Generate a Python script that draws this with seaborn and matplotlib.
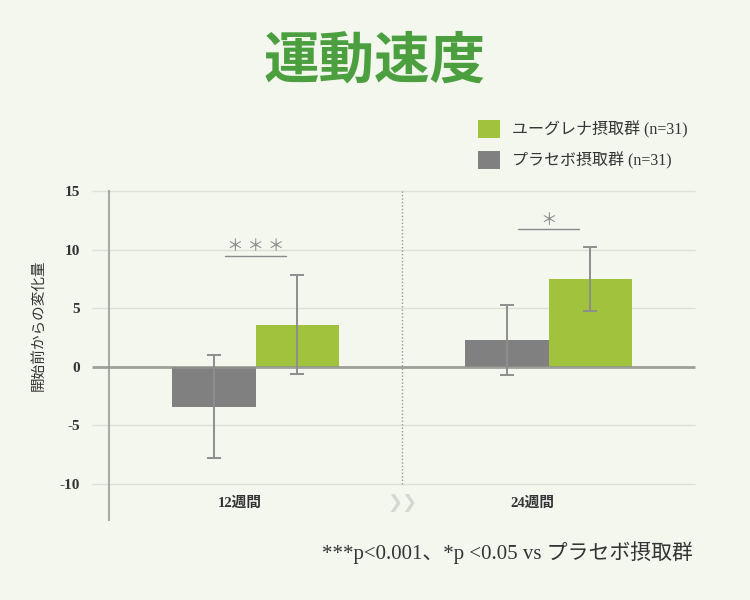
import matplotlib
matplotlib.use('Agg')
import matplotlib.pyplot as plt
import matplotlib.transforms as mtransforms
import seaborn as sns
import pandas as pd
from matplotlib.patches import Patch

# ---------------- data ----------------
title = "運動速度"
periods = ["12週間", "24週間"]
groups = ["プラセボ摂取群 (n=31)", "ユーグレナ摂取群 (n=31)"]
placebo_mean = [-3.4, 2.3]
placebo_err = [4.4, 3.0]
euglena_mean = [3.6, 7.5]
euglena_err = [4.25, 2.7]
sig_marks = ["＊ ＊ ＊", "＊"]
sig_y = [9.45, 11.75]
y_ticks = [-10, -5, 0, 5, 10, 15]
y_label = "開始前からの変化量"
footnote = "***p<0.001、*p <0.05 vs プラセボ摂取群"

BG = '#f3f7ee'
GREEN = '#a0c23c'
GRAY = '#808080'
TITLE_GREEN = '#4c9f3f'
TEXT = '#333333'

sns.set_theme(style='white', rc={'figure.facecolor': BG, 'axes.facecolor': BG,
                                 'savefig.facecolor': BG})
plt.rcParams['font.family'] = ['Liberation Serif', 'Noto Sans CJK JP', 'DejaVu Sans']

df = pd.DataFrame({
    'period': periods * 2,
    'group': [groups[0]] * len(periods) + [groups[1]] * len(periods),
    'value': placebo_mean + euglena_mean,
})

fig = plt.figure(figsize=(7.5, 6), dpi=100)
ax = fig.add_axes([109 / 750, 80 / 600, 586 / 750, 329 / 600])

sns.barplot(data=df, x='period', y='value', hue='group', order=periods,
            hue_order=groups, palette=[GRAY, GREEN], width=0.567, gap=0,
            errorbar=None, saturation=1, legend=False, ax=ax, zorder=2,
            linewidth=0, edgecolor='none')

ax.set_xlim(-0.5, 1.5)
ax.set_ylim(-13.07, 15)

# error bars at bar centres
for cont, means, errs in zip(ax.containers, [placebo_mean, euglena_mean],
                             [placebo_err, euglena_err]):
    xs = [b.get_x() + b.get_width() / 2 for b in cont]
    ax.errorbar(xs, means, yerr=errs, fmt='none', ecolor='#8e8e8e',
                elinewidth=1.4, capsize=5, capthick=1.4, zorder=4)

# grid lines (extend a bit left of the axis)
ytr = ax.get_yaxis_transform()
for t in y_ticks:
    if t == 0:
        ax.hlines(t, -0.029, 1, transform=ytr, color='#8f928c', lw=2,
                  alpha=0.85, clip_on=False, zorder=3)
    else:
        ax.hlines(t, -0.029, 1, transform=ytr, color='#dce0d7', lw=1,
                  clip_on=False, zorder=0)

# divider
ax.vlines(0.5, -10, 15, colors='#9a9a9a', linestyles=(0, (1, 1.5)), lw=1, zorder=1)

# significance
for i, (m, yv) in enumerate(zip(sig_marks, sig_y)):
    ax.plot([i - 0.104, i + 0.104], [yv, yv], color='#8a8a8a', lw=1, zorder=3)
    ax.text(i, yv + 0.05, m, ha='center', va='bottom', fontsize=12,
            color='#8a8a8a', family=['Noto Sans CJK JP'])

# spines & ticks
for s in ['top', 'right', 'bottom']:
    ax.spines[s].set_visible(False)
ax.spines['left'].set_color('#a8aaa5')
ax.spines['left'].set_linewidth(1.5)
ax.set_yticks(y_ticks)
ax.set_yticklabels([str(t) for t in y_ticks])
ax.tick_params(axis='y', length=0, pad=21, labelsize=11, labelcolor=TEXT)
for lab in ax.get_yticklabels():
    lab.set_fontweight('bold')
ax.set_xticks([])
ax.set_xlabel('')
ax.set_ylabel(y_label, fontsize=10.5, color=TEXT)
ax.yaxis.set_label_coords(-0.1075, 0.593)

# category labels
btr = mtransforms.blended_transform_factory(ax.transData, ax.transAxes)
for i, p in enumerate(periods):
    ax.text(i - 0.055, 0.052, p, transform=btr, ha='center', va='center',
            fontsize=10.5, fontweight='bold', color=TEXT)
ax.text(0.5, 0.052, '❯❯', transform=btr, ha='center', va='center',
        fontsize=13, color='#d5d8d1', family=['DejaVu Sans'])

# legend
handles = [Patch(facecolor=GREEN, edgecolor='none', label=groups[1]),
           Patch(facecolor=GRAY, edgecolor='none', label=groups[0])]
leg = ax.legend(handles=handles, loc='upper left',
                bbox_to_anchor=(478 / 750, 1 - 120 / 600),
                bbox_transform=fig.transFigure, frameon=False, borderpad=0,
                borderaxespad=0, handlelength=1.38, handleheight=1.38,
                labelspacing=0.78, handletextpad=0.72, fontsize=11.5)
for t in leg.get_texts():
    t.set_color(TEXT)

# title & footnote
fig.text(0.5, 1 - 62 / 600, title, ha='center', va='center', fontsize=40,
         fontweight='bold', color=TITLE_GREEN, family=['Noto Sans CJK JP'])
fig.text(693 / 750, 1 - 553 / 600, footnote, ha='right', va='center',
         fontsize=15, color=TEXT)

fig.savefig('out.png', dpi=100, facecolor=BG)
